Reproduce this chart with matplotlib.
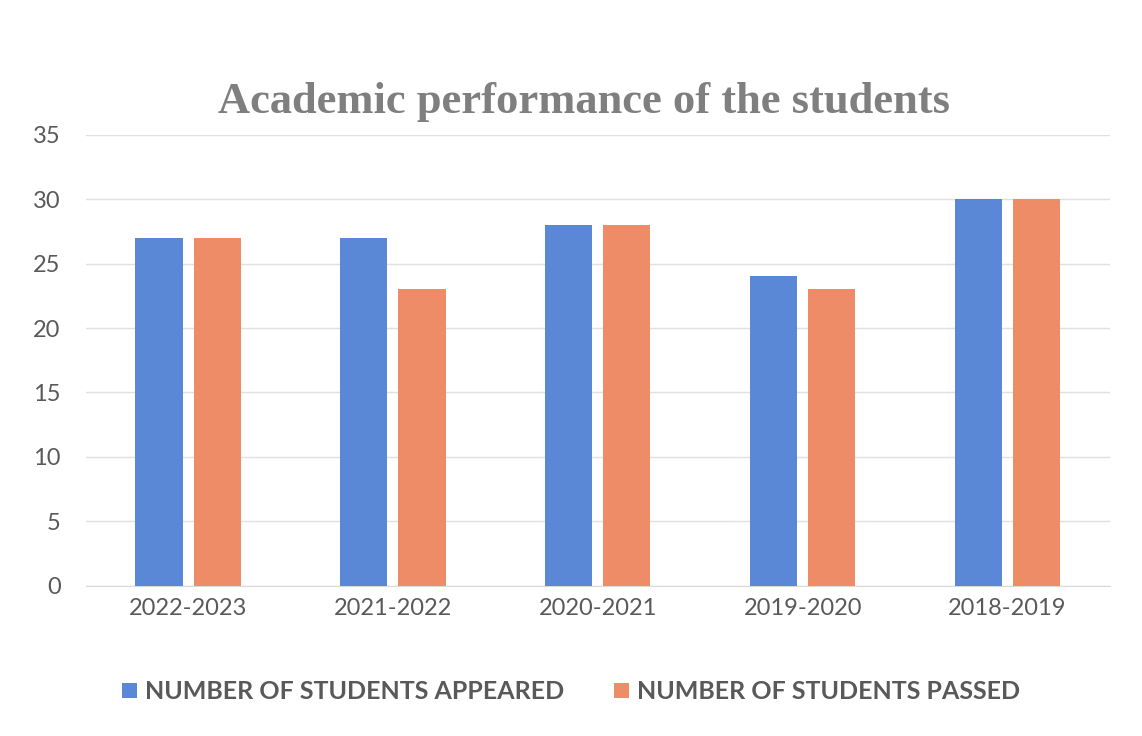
import numpy as np
import matplotlib.pyplot as plt

years = ['2022-2023', '2021-2022', '2020-2021', '2019-2020', '2018-2019']
appeared = [27, 27, 28, 24, 30]
passed = [27, 23, 28, 23, 30]

blue = '#5A87D6'
orange = '#EF8C68'
grey = '#595959'

fig = plt.figure(figsize=(11.42, 7.36), dpi=100)
ax = fig.add_axes([0.075, 0.204, 0.897, 0.613])

x = np.arange(len(years))
w = 0.23
ax.bar(x - w / 2 - 0.027, appeared, w, color=blue, label='NUMBER OF STUDENTS APPEARED', zorder=3)
ax.bar(x + w / 2 + 0.027, passed, w, color=orange, label='NUMBER OF STUDENTS PASSED', zorder=3)

ax.set_xlim(-0.5, len(years) - 0.5)
ax.set_ylim(0, 35)
ax.set_yticks(range(0, 36, 5))
ax.set_xticks(x)
ax.set_xticklabels(years)
ax.grid(axis='y', color='#e0e0e0', linewidth=1, zorder=0)
for s in ax.spines.values():
    s.set_visible(False)
ax.spines['bottom'].set_visible(True)
ax.spines['bottom'].set_color('#d9d9d9')
ax.tick_params(length=0, labelsize=17, labelcolor=grey)
for lab in ax.get_xticklabels() + ax.get_yticklabels():
    lab.set_family('Lato')
ax.tick_params(axis='x', pad=9)
ax.tick_params(axis='y', pad=18)

fig.text(0.511, 0.862, 'Academic performance of the students', ha='center', va='center',
         fontsize=32, fontweight='bold', family='Liberation Serif', color='#7f7f7f')

leg = fig.legend(loc='center', bbox_to_anchor=(0.5, 0.06), ncol=2, frameon=False,
                 prop={'family': 'Lato', 'weight': 'bold', 'size': 18},
                 handlelength=0.6, handleheight=0.6, columnspacing=2.0, handletextpad=0.3)
for t in leg.get_texts():
    t.set_color(grey)

fig.savefig('out.png', dpi=100, facecolor='white')
